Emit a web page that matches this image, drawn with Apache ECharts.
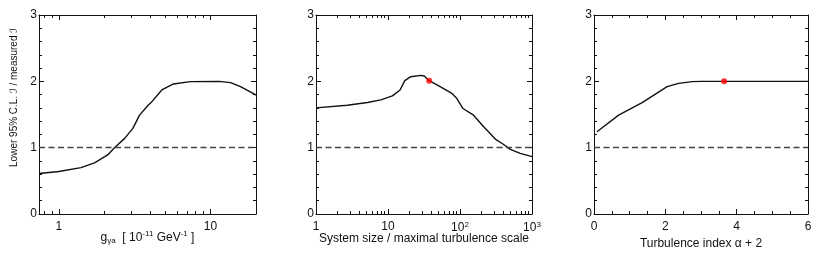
<!DOCTYPE html>
<html>
<head>
<meta charset="utf-8">
<script src="https://cdn.jsdelivr.net/npm/echarts@6/dist/echarts.min.js"></script>
<style>
html,body{margin:0;padding:0;background:#fff;}
#chart{width:830px;height:258px;}
</style>
</head>
<body>
<div id="chart"></div>
<script>
// ---- data ----
const couplingX = [0.74, 1.0, 1.40, 1.72, 2.10, 2.33, 2.72, 3.08, 3.41, 3.88, 4.10, 4.78, 5.71, 7.37, 11.4, 13.6, 15.8, 19.4, 20];
const couplingY = [0.61, 0.64, 0.70, 0.77, 0.89, 1.00, 1.14, 1.29, 1.49, 1.64, 1.69, 1.87, 1.96, 1.995, 2.0, 1.98, 1.92, 1.81, 1.79];

const sizeX = [1, 2.72, 5.17, 7.94, 11.5, 14.7, 17.1, 20.7, 28.6, 31.8, 37.3, 53, 77, 90.5, 110, 154, 212, 309, 395, 499, 687, 1000];
const sizeY = [1.60, 1.64, 1.68, 1.72, 1.78, 1.87, 2.01, 2.07, 2.09, 2.08, 2.01, 1.92, 1.82, 1.74, 1.59, 1.49, 1.32, 1.13, 1.055, 0.975, 0.915, 0.865];
const sizeBest = [37.3, 2.01];

const indexX = [0.084, 0.69, 1.35, 2.05, 2.37, 2.75, 3.03, 3.65, 6];
const indexY = [1.24, 1.49, 1.68, 1.92, 1.97, 1.995, 2.0, 2.0, 2.0];
const indexBest = [3.65, 2.0];

const referenceLevel = 1;

const couplingMajor = [1, 10];
const couplingMinor = [0.8, 0.9, 2, 3, 4, 5, 6, 7, 8, 9, 20];
const sizeMajor = [1, 10, 100, 1000];
const sizeMinor = [2,3,4,5,6,7,8,9,20,30,40,50,60,70,80,90,200,300,400,500,600,700,800,900];

const yTitle = 'Lower 95% C.L. \u2110 / measured \u2110';
const xTitle1 = '{n|g}{sub|\u03b3a}{n|  [ 10}{sup|-11}{n| GeV}{sup|-1}{n| ]}';
const xTitle2 = 'System size / maximal turbulence scale';
const xTitle3 = 'Turbulence index \u03b1 + 2';

// ---- styling ----
const FONT = "'Liberation Sans', Arial, 'DejaVu Sans', sans-serif";
const INK = '#111';
const FS = 12;
const grids = [
  {left: 39, top: 15, width: 217, height: 199},
  {left: 316, top: 15, width: 216, height: 199},
  {left: 594, top: 15, width: 214, height: 199}
];
const rich = {
  n: {fontSize: FS, fontFamily: FONT, color: INK},
  sub: {fontSize: 8, fontFamily: FONT, color: INK, verticalAlign: 'bottom', padding: [7, 0, 0, 0]},
  sup: {fontSize: 8, fontFamily: FONT, color: INK, verticalAlign: 'top', padding: [0, 0, 6, 0]}
};
const lineStyle = {color: INK, width: 1};

function logAxes(gi, min, max, majors, minors, fmt, name, gap) {
  const lmin = Math.log10(min), lmax = Math.log10(max);
  const base = {gridIndex: gi, splitLine: {show: false}, axisLine: {show: false, onZero: false}};
  const out = [];
  // data axis (log scale)
  out.push({
    type: 'log', logBase: 10, gridIndex: gi, min: min, max: max, position: 'bottom',
    axisLine: {show: true, onZero: false, lineStyle: lineStyle},
    axisTick: {show: false}, axisLabel: {show: false}, splitLine: {show: false},
    name: name, nameLocation: 'middle', nameGap: gap,
    nameTextStyle: {fontSize: FS, fontFamily: FONT, color: INK, rich: rich}
  });
  ['bottom', 'top'].forEach(pos => {
    out.push(Object.assign({}, base, {
      type: 'value', min: lmin, max: lmax, position: pos,
      axisLine: {show: pos === 'top', onZero: false, lineStyle: lineStyle},
      axisTick: {show: true, inside: true, length: 5, lineStyle: lineStyle, customValues: majors.map(Math.log10)},
      axisLabel: pos === 'bottom' ? {show: true, margin: 7, fontSize: FS, fontFamily: FONT, color: INK, rich: rich,
        customValues: majors.map(Math.log10), formatter: v => fmt(Math.round(Math.pow(10, v)))} : {show: false}
    }));
    out.push(Object.assign({}, base, {
      type: 'value', min: lmin, max: lmax, position: pos,
      axisTick: {show: true, inside: true, length: 3, lineStyle: lineStyle, customValues: minors.map(Math.log10)},
      axisLabel: {show: false}
    }));
  });
  return out;
}

const xAxes = [];
const a1 = logAxes(0, 0.74, 20, couplingMajor, couplingMinor, v => String(v), xTitle1, 16);
const a2 = logAxes(1, 1, 1000, sizeMajor, sizeMinor, v => v === 1 ? '1' : v === 10 ? '10' : '10{sup|' + Math.round(Math.log10(v)) + '}', xTitle2, 19);
const idx1 = xAxes.length; xAxes.push(...a1);
const idx2 = xAxes.length; xAxes.push(...a2);
const idx3 = xAxes.length;
['bottom', 'top'].forEach(pos => {
  xAxes.push({
    type: 'value', gridIndex: 2, min: 0, max: 6, interval: 2, position: pos,
    axisLine: {show: true, onZero: false, lineStyle: lineStyle},
    axisTick: {show: true, inside: true, length: 5, lineStyle: lineStyle},
    minorTick: {show: true, splitNumber: 4, length: 3, lineStyle: lineStyle},
    splitLine: {show: false},
    axisLabel: pos === 'bottom' ? {show: true, margin: 7, fontSize: FS, fontFamily: FONT, color: INK} : {show: false},
    name: pos === 'bottom' ? xTitle3 : '', nameLocation: 'middle', nameGap: 19,
    nameTextStyle: {fontSize: FS, fontFamily: FONT, color: INK}
  });
});

const yAxes = [];
[0, 1, 2].forEach(gi => {
  ['left', 'right'].forEach(pos => {
    yAxes.push({
      type: 'value', gridIndex: gi, min: 0, max: 3, interval: 1, position: pos,
      axisLine: {show: true, onZero: false, lineStyle: lineStyle},
      axisTick: {show: true, inside: true, length: 5, lineStyle: lineStyle},
      minorTick: {show: true, splitNumber: 5, length: 3, lineStyle: lineStyle},
      splitLine: {show: false},
      axisLabel: pos === 'left' ? {show: true, margin: 2, fontSize: FS, fontFamily: FONT, color: INK} : {show: false},
      name: (gi === 0 && pos === 'left') ? yTitle : '',
      nameLocation: 'middle', nameRotate: 90, nameGap: 20,
      nameTextStyle: {fontSize: 10, fontFamily: FONT, color: INK, padding: [0, 0, 0, 34]}
    });
  });
});

function zip(a, b) { return a.map((v, i) => [v, b[i]]); }
const dashed = {
  silent: true, symbol: ['none', 'none'], label: {show: false},
  lineStyle: {type: [6, 3.5], color: '#444', width: 1.4},
  data: [{yAxis: referenceLevel}]
};
function curve(xi, yi, data) {
  return {type: 'line', xAxisIndex: xi, yAxisIndex: yi, data: data, showSymbol: false, symbol: 'none',
    lineStyle: {color: INK, width: 1.4}, animation: false, markLine: Object.assign({animation: false}, dashed), z: 3};
}
function dot(xi, yi, p) {
  return {type: 'scatter', xAxisIndex: xi, yAxisIndex: yi, data: [p], symbol: 'circle', symbolSize: 6,
    itemStyle: {color: '#ff0000'}, animation: false, z: 5};
}

const option = {
  backgroundColor: '#fff',
  animation: false,
  grid: grids,
  xAxis: xAxes,
  yAxis: yAxes,
  series: [
    curve(idx1, 0, zip(couplingX, couplingY)),
    curve(idx2, 2, zip(sizeX, sizeY)),
    dot(idx2, 2, sizeBest),
    curve(idx3, 4, zip(indexX, indexY)),
    dot(idx3, 4, indexBest)
  ]
};
const chart = echarts.init(document.getElementById('chart'), null, {renderer: 'canvas'});
chart.setOption(option);
</script>
</body>
</html>
